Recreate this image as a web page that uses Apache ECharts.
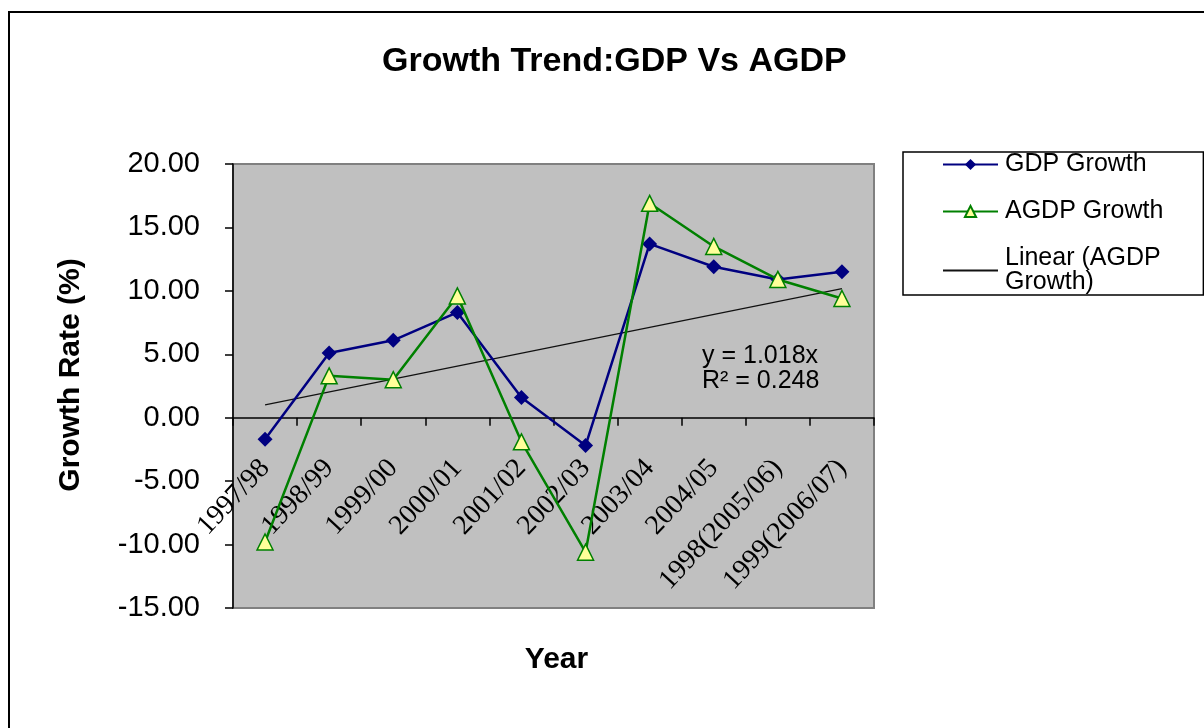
<!DOCTYPE html>
<html>
<head>
<meta charset="utf-8">
<title>Growth Trend: GDP Vs AGDP</title>
<script src="https://cdn.jsdelivr.net/npm/echarts@6/dist/echarts.min.js"></script>
<style>
  html, body { margin: 0; padding: 0; background: #fff; }
  #chart { width: 1204px; height: 728px; }
</style>
</head>
<body>
<div id="chart"></div>
<script>
// Fiscal years on the category axis
const years = ['1997/98', '1998/99', '1999/00', '2000/01', '2001/02', '2002/03',
               '2003/04', '2004/05', '1998(2005/06)', '1999(2006/07)'];

// Annual growth rates (%)
const gdpGrowth  = [-1.7, 5.1, 6.1, 8.3, 1.6, -2.2, 13.7, 11.9, 10.9, 11.5];
const agdpGrowth = [-9.8, 3.3, 3.0, 9.6, -1.9, -10.6, 16.9, 13.5, 10.9, 9.4];

// Linear trend of AGDP growth (fitted through the origin, x = 1..n)
const trendSlope = 1.018;
const trendR2 = 0.248;

// Value axis range
const yMin = -15;
const yMax = 20;
const yStep = 5;

const SANS = '"Liberation Sans", Arial, Helvetica, sans-serif';
const SERIF = '"Liberation Serif", "Times New Roman", serif';
const trendName = 'Linear (AGDP Growth)';

const trendData = [
  [years[0], trendSlope * 1],
  [years[years.length - 1], trendSlope * years.length]
];

// Plot area placement
const W = 1204, H = 728;
const gridBox = { left: 233, right: 330, top: 164, bottom: 120 };
const plotHeight = H - gridBox.top - gridBox.bottom;
// The category axis (with its labels and name) sits on the zero line
const zeroOffset = -plotHeight * (0 - yMin) / (yMax - yMin);

const chart = echarts.init(document.getElementById('chart'), null, { renderer: 'canvas' });

chart.setOption({
  animation: false,
  backgroundColor: '#ffffff',
  title: {
    text: 'Growth Trend:GDP Vs AGDP',
    left: 382,
    top: 45,
    padding: 0,
    textStyle: { fontFamily: SANS, fontSize: 34, fontWeight: 'bold', color: '#000' }
  },
  legend: {
    orient: 'vertical',
    left: 903,
    top: 152,
    padding: [0, 40, 0, 39],
    itemGap: 22,
    itemWidth: 55,
    itemHeight: 14,
    backgroundColor: '#ffffff',
    borderColor: '#000',
    borderWidth: 1.5,
    borderRadius: 0,
    textStyle: { fontFamily: SANS, fontSize: 25, color: '#000', lineHeight: 24, padding: [0, 0, 0, 2] },
    formatter: name => name === trendName ? 'Linear (AGDP\nGrowth)' : name,
    data: [
      'GDP Growth',
      'AGDP Growth',
      { name: trendName, itemStyle: { color: 'rgba(0,0,0,0)', borderWidth: 0 } }
    ]
  },
  grid: {
    left: gridBox.left,
    right: gridBox.right,
    top: gridBox.top,
    bottom: gridBox.bottom,
    containLabel: false,
    outerBoundsMode: 'none',
    show: true,
    backgroundColor: '#C0C0C0',
    borderColor: '#808080',
    borderWidth: 2
  },
  xAxis: {
    type: 'category',
    data: years,
    boundaryGap: true,
    offset: zeroOffset,
    axisLine: { show: true, onZero: false, lineStyle: { color: '#000', width: 1.5 } },
    axisTick: { show: true, length: 8, lineStyle: { color: '#000', width: 1.5 } },
    axisLabel: {
      interval: 0,
      rotate: 47,
      margin: 46,
      fontFamily: SERIF,
      fontSize: 28,
      color: '#000'
    },
    splitLine: { show: false },
    name: 'Year',
    nameLocation: 'middle',
    nameGap: 227,
    nameTextStyle: { fontFamily: SANS, fontSize: 30, fontWeight: 'bold', color: '#000', padding: [0, 0, 0, 6] }
  },
  yAxis: {
    type: 'value',
    min: yMin,
    max: yMax,
    interval: yStep,
    axisLine: { show: true, lineStyle: { color: '#000', width: 1.5 } },
    axisTick: { show: true, length: 8, lineStyle: { color: '#000', width: 1.5 } },
    axisLabel: {
      margin: 33,
      fontFamily: SANS,
      fontSize: 29,
      color: '#000',
      formatter: v => v.toFixed(2)
    },
    splitLine: { show: false },
    name: 'Growth Rate (%)',
    nameLocation: 'middle',
    nameGap: 147,
    nameRotate: 90,
    nameTextStyle: { fontFamily: SANS, fontSize: 30, fontWeight: 'bold', color: '#000', padding: [0, 0, 0, 22] }
  },
  series: [
    {
      name: trendName,
      type: 'line',
      data: trendData,
      symbol: 'none',
      lineStyle: { color: '#111', width: 1.2 },
      itemStyle: { color: '#111' },
      z: 2
    },
    {
      name: 'GDP Growth',
      type: 'line',
      data: gdpGrowth,
      symbol: 'diamond',
      symbolSize: 15,
      lineStyle: { color: '#000080', width: 2.5 },
      itemStyle: { color: '#000080' },
      z: 3
    },
    {
      name: 'AGDP Growth',
      type: 'line',
      data: agdpGrowth,
      symbol: 'triangle',
      symbolSize: 16,
      lineStyle: { color: '#008000', width: 2.5 },
      itemStyle: { color: '#FFFF99', borderColor: '#008000', borderWidth: 1.5 },
      z: 4
    }
  ],
  graphic: [
    {
      type: 'rect',
      silent: true,
      z: -10,
      shape: { x: 9, y: 12, width: 1400, height: 1000 },
      style: { fill: 'none', stroke: '#000', lineWidth: 2 }
    },
    {
      type: 'text',
      silent: true,
      left: 702,
      top: 344,
      z: 10,
      style: {
        text: 'y = ' + trendSlope.toFixed(3) + 'x\nR\u00b2 = ' + trendR2.toFixed(3),
        font: '25px ' + SANS,
        lineHeight: 25,
        fill: '#000'
      }
    }
  ]
});
</script>
</body>
</html>
